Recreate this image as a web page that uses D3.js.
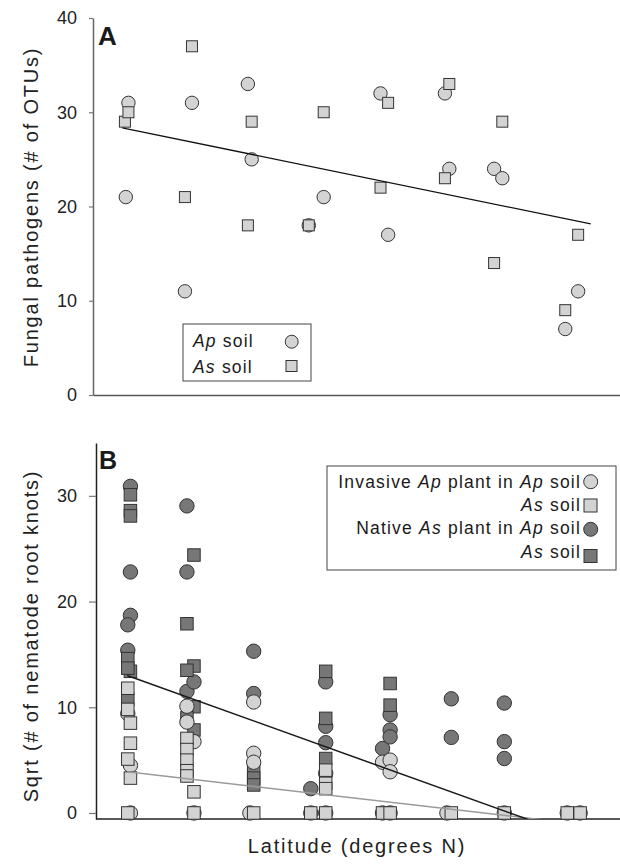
<!DOCTYPE html>
<html>
<head>
<script src="https://cdnjs.cloudflare.com/ajax/libs/d3/7.8.5/d3.min.js"></script>
<style>
  body { margin: 0; background: #fff; }
  svg { font-family: "Liberation Sans", Arial, sans-serif; }
</style>
</head>
<body>
<div id="vis"></div>
<script>
// ---- panel A: fungal pathogens (# of OTUs) by site latitude ----
const apSoilA = [[21.12,21],[21.21,31],[23.14,11],[23.38,31],[25.29,33],[25.42,25],[27.37,18],[27.88,21],
                 [29.82,32],[30.08,17],[32.02,32],[32.17,24],[33.70,24],[33.98,23],[36.13,7],[36.57,11]];
const asSoilA = [[21.09,29],[21.21,30],[23.14,21],[23.38,37],[25.29,18],[25.42,29],[27.37,18],[27.88,30],
                 [29.82,22],[30.08,31],[32.02,23],[32.17,33],[33.70,14],[33.98,29],[36.13,9],[36.57,17]];
const fitA = [[21.0,28.35],[37.0,18.15]];
const ticksA = [0,10,20,30,40];

// ---- panel B: sqrt(# of nematode root knots) ----
// invasive Ap plant in Ap soil
const apPlantApSoil = [[21.12,9.4],[21.21,4.5],[21.21,0],[23.14,10.1],[23.14,8.6],[23.38,6.75],[23.38,0],
                       [25.42,10.5],[25.42,5.65],[25.42,4.8],[25.29,0],[27.37,0],[27.88,3.75],[27.88,0],
                       [29.82,4.8],[29.82,0],[30.08,5.0],[30.08,3.9],[30.08,0],[32.02,0],[33.98,0],[36.13,0],[36.57,0]];
// invasive Ap plant in As soil
const apPlantAsSoil = [[21.12,11.8],[21.12,9.8],[21.12,5.1],[21.12,0],[21.21,8.5],[21.21,6.6],[21.21,3.3],
                       [23.14,7.05],[23.14,6.0],[23.14,5.0],[23.14,4.0],[23.14,3.5],[23.38,2.0],[23.38,0],
                       [25.42,0],[27.37,0],[27.88,4.05],[27.88,2.8],[27.88,2.3],[27.88,0],
                       [29.82,0],[30.08,0],[32.17,0],[33.98,0],[36.13,0],[36.57,0]];
// native As plant in Ap soil
const asPlantApSoil = [[21.21,30.9],[21.21,22.8],[21.21,18.7],[21.12,17.8],[21.12,15.4],
                       [23.14,29.05],[23.14,22.8],[23.14,11.5],[23.38,12.4],[25.42,15.3],[25.42,11.3],
                       [27.37,2.3],[27.88,12.4],[27.88,8.2],[27.88,6.65],[29.82,6.1],[30.08,9.3],[30.08,7.85],[30.08,7.2],
                       [32.17,10.8],[32.17,7.15],[33.98,10.4],[33.98,6.75],[33.98,5.15]];
// native As plant in As soil
const asPlantAsSoil = [[21.21,30.1],[21.21,28.6],[21.21,28.1],[21.21,13.4],[21.12,14.6],[21.12,13.7],[21.12,10.75],
                       [23.38,24.4],[23.38,13.9],[23.38,10.05],[23.38,7.85],[23.14,17.9],[23.14,13.5],[23.14,9.0],
                       [25.42,3.9],[25.42,3.3],[25.42,2.65],[27.88,13.4],[27.88,8.95],[27.88,5.15],
                       [30.08,12.25],[30.08,10.2]];
const fitInvasive = [[21.1,3.9],[36.6,-1.07]];
const fitNative = [[21.1,13.0],[36.6,-2.41]];
const ticksB = [0,10,20,30];

const light = "#d3d3d3", dark = "#777777", edge = "#333";

const width = 620, height = 864;
const svg = d3.select("#vis").append("svg")
    .attr("width", width)
    .attr("height", height);

var xA = d3.scaleLinear().domain([20, 38]).range([93, 620]);
var yA = d3.scaleLinear().domain([0, 40]).range([395, 18]);
var xB = d3.scaleLinear().domain([20, 38]).range([95, 622]);
var yB = d3.scaleLinear().domain([-0.57, 35]).range([819, 443]);

function styleAxis(g, col) {
    g.selectAll(".domain").attr("stroke", col).attr("stroke-width", 1.5);
    g.selectAll(".tick line").attr("stroke", "#777").attr("stroke-width", 1.2);
    g.selectAll(".tick text").attr("fill", "#222").style("font-size", "18px")
        .style("font-family", "Liberation Sans, Arial, sans-serif");
}

// axes A
var axA = svg.append("g").attr("id", "axesA");
axA.append("g").attr("transform", "translate(93,0)")
    .call(d3.axisLeft(yA).tickValues(ticksA).tickSize(4).tickSizeOuter(0).tickPadding(12))
    .call(g => styleAxis(g, "#666"));
axA.append("g").attr("transform", "translate(0,395)")
    .call(d3.axisBottom(xA).tickValues([]).tickSizeOuter(0))
    .call(g => styleAxis(g, "#555"));

// axes B
var axB = svg.append("g").attr("id", "axesB");
axB.append("g").attr("transform", "translate(96,0)")
    .call(d3.axisLeft(yB).tickValues(ticksB).tickSize(7).tickSizeOuter(0).tickPadding(12))
    .call(g => styleAxis(g, "#222"));
axB.append("line").attr("x1", 96).attr("x2", 620).attr("y1", 819).attr("y2", 819)
    .attr("stroke", "#222").attr("stroke-width", 1.5);

function circles(g, data, x, y, r, fill) {
    g.append("g").selectAll("circle").data(data).join("circle")
        .attr("cx", d => x(d[0])).attr("cy", d => y(d[1])).attr("r", r)
        .attr("fill", fill).attr("stroke", edge).attr("stroke-width", 1);
}
function squares(g, data, x, y, s, fill) {
    g.append("g").selectAll("rect").data(data).join("rect")
        .attr("x", d => x(d[0]) - s / 2).attr("y", d => y(d[1]) - s / 2)
        .attr("width", s).attr("height", s)
        .attr("fill", fill).attr("stroke", edge).attr("stroke-width", 1);
}
var line = (x, y) => d3.line().x(d => x(d[0])).y(d => y(d[1]));

// panel A marks
var pA = svg.append("g").attr("id", "panelA");
circles(pA, apSoilA, xA, yA, 6.7, light);
squares(pA, asSoilA, xA, yA, 11, light);
pA.append("path").datum(fitA).attr("d", line(xA, yA))
    .attr("fill", "none").attr("stroke", "#111").attr("stroke-width", 1.3);

// panel B marks
svg.append("clipPath").attr("id", "clipB").append("rect")
    .attr("x", 96).attr("y", 443).attr("width", 524).attr("height", 376);
var pB = svg.append("g").attr("id", "panelB");
circles(pB, asPlantApSoil, xB, yB, 7.2, dark);
squares(pB, asPlantAsSoil, xB, yB, 12.5, dark);
circles(pB, apPlantApSoil, xB, yB, 7.2, light);
squares(pB, apPlantAsSoil, xB, yB, 12.5, light);
var fits = pB.append("g").attr("clip-path", "url(#clipB)");
fits.append("path").datum(fitInvasive).attr("d", line(xB, yB))
    .attr("fill", "none").attr("stroke", "#9a9a9a").attr("stroke-width", 1.5);
fits.append("path").datum(fitNative).attr("d", line(xB, yB))
    .attr("fill", "none").attr("stroke", "#1a1a1a").attr("stroke-width", 1.5);

// panel letters
svg.append("text").attr("x", 98).attr("y", 45).text("A")
    .style("font-size", "26px").style("font-weight", "bold").attr("fill", "#1a1a1a");
svg.append("text").attr("x", 99).attr("y", 469).text("B")
    .style("font-size", "25px").style("font-weight", "bold").attr("fill", "#1a1a1a");

// axis titles
function title(x, y, rot, txt) {
    svg.append("text").attr("transform", "translate(" + x + "," + y + ") rotate(" + rot + ")")
        .attr("text-anchor", "middle").attr("fill", "#222")
        .style("font-size", "20px").style("letter-spacing", "1.8px").text(txt);
}
title(38, 207, -90, "Fungal pathogens (# of OTUs)");
title(38, 636, -90, "Sqrt (# of nematode root knots)");
title(357, 853, 0, "Latitude (degrees N)");

// legend helper: parts = [[text, italic], ...]
function legendText(g, x, y, anchor, parts) {
    var t = g.append("text").attr("x", x).attr("y", y).attr("text-anchor", anchor)
        .attr("fill", "#1a1a1a").style("font-size", "17.5px").style("letter-spacing", "1.2px");
    parts.forEach(p => t.append("tspan").text(p[0]).style("font-style", p[1] ? "italic" : "normal"));
}

// legend A
var legA = svg.append("g").attr("id", "legendA");
legA.append("rect").attr("x", 183).attr("y", 324).attr("width", 128).attr("height", 57)
    .attr("fill", "#fff").attr("stroke", "#444").attr("stroke-width", 1);
legendText(legA, 193, 347, "start", [["Ap", true], [" soil", false]]);
legendText(legA, 193, 373, "start", [["As", true], [" soil", false]]);
legA.append("circle").attr("cx", 291.7).attr("cy", 341.7).attr("r", 6.5)
    .attr("fill", light).attr("stroke", edge);
legA.append("rect").attr("x", 286).attr("y", 360.5).attr("width", 11).attr("height", 11)
    .attr("fill", light).attr("stroke", edge);

// legend B
var legB = svg.append("g").attr("id", "legendB");
legB.append("rect").attr("x", 327).attr("y", 466).attr("width", 289).attr("height", 104)
    .attr("fill", "#fff").attr("stroke", "#444").attr("stroke-width", 1);
legendText(legB, 581, 488, "end", [["Invasive ", false], ["Ap", true], [" plant in ", false], ["Ap", true], [" soil", false]]);
legendText(legB, 581, 511, "end", [["As", true], [" soil", false]]);
legendText(legB, 581, 534, "end", [["Native ", false], ["As", true], [" plant in ", false], ["Ap", true], [" soil", false]]);
legendText(legB, 581, 558, "end", [["As", true], [" soil", false]]);
legB.append("circle").attr("cx", 590.7).attr("cy", 481.7).attr("r", 7).attr("fill", light).attr("stroke", edge);
legB.append("rect").attr("x", 584).attr("y", 499).attr("width", 13).attr("height", 13).attr("fill", light).attr("stroke", edge);
legB.append("circle").attr("cx", 590.7).attr("cy", 529.3).attr("r", 7).attr("fill", dark).attr("stroke", edge);
legB.append("rect").attr("x", 584).attr("y", 549.5).attr("width", 13).attr("height", 13).attr("fill", dark).attr("stroke", edge);
</script>
</body>
</html>
